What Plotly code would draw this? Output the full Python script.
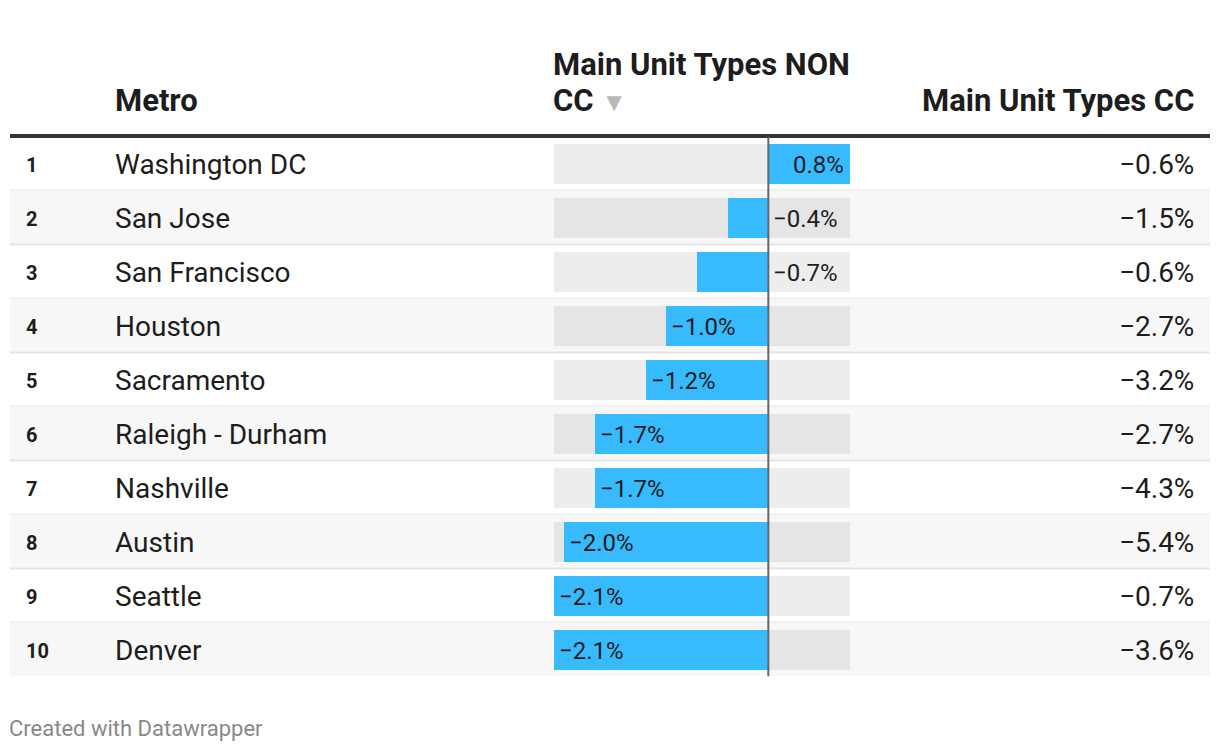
import plotly.graph_objects as go

# ---- data ----
ranks = [1, 2, 3, 4, 5, 6, 7, 8, 9, 10]
metros = ["Washington DC", "San Jose", "San Francisco", "Houston", "Sacramento",
          "Raleigh - Durham", "Nashville", "Austin", "Seattle", "Denver"]
non_cc = [0.8, -0.4, -0.7, -1.0, -1.2, -1.7, -1.7, -2.0, -2.1, -2.1]
cc = [-0.6, -1.5, -0.6, -2.7, -3.2, -2.7, -4.3, -5.4, -0.7, -3.6]
header_metro = "Metro"
header_non_cc = ["Main Unit Types NON", "CC"]
header_cc = "Main Unit Types CC"
footer = "Created with Datawrapper"

# ---- layout constants ----
W, H = 1220, 752
OFF = 8  # page body margin
FONT = "Roboto"
BAR_COLOR = "#38baff"
X_MIN, X_MAX = -2.1, 0.8
TOP_PX, ROW_PX = 136.5, 54
n = len(metros)
BOT_PX = TOP_PX + ROW_PX * n


def px(x):
    return (x - OFF) / W


def py(y):
    return 1 - (y - OFF) / H


def fmt(v):
    s = f"{abs(v):.1f}%"
    return ("\u2212" + s) if v < 0 else s


rows = list(range(n))

fig = go.Figure()

# background track
fig.add_trace(go.Bar(
    y=rows, x=[X_MAX - X_MIN] * n, base=[X_MIN] * n, orientation="h",
    width=40 / ROW_PX, marker=dict(color="rgba(0,0,0,0.07)", line=dict(width=0)),
    hoverinfo="skip", showlegend=False))
# value bars
fig.add_trace(go.Bar(
    y=rows, x=non_cc, orientation="h", width=40 / ROW_PX,
    marker=dict(color=BAR_COLOR, line=dict(width=0)),
    hoverinfo="skip", showlegend=False))

shapes = []
annotations = []

# row backgrounds & separators
for i in rows:
    if i % 2 == 1:
        shapes.append(dict(type="rect", xref="paper", yref="y", x0=px(10), x1=px(1210),
                           y0=i - 0.5, y1=i + 0.5, fillcolor="#f7f7f7",
                           line=dict(width=0), layer="below"))
    if i < n - 1:
        shapes.append(dict(type="line", xref="paper", yref="y", x0=px(10), x1=px(1210),
                           y0=i + 0.5, y1=i + 0.5, line=dict(color="#e6e6e6", width=2),
                           layer="below"))

# header rule
shapes.append(dict(type="line", xref="paper", yref="paper", x0=px(10), x1=px(1210),
                   y0=py(TOP_PX - 0.5), y1=py(TOP_PX - 0.5),
                   line=dict(color="#333333", width=4)))
# zero line
shapes.append(dict(type="line", xref="x", yref="y", x0=0, x1=0, y0=-0.5, y1=n - 0.5,
                   line=dict(color="#666666", width=2), layer="above"))

BODY = 28
TXT = "#1d1d1d"
for i in rows:
    annotations.append(dict(xref="paper", yref="y", x=px(24), y=i, xanchor="left",
                            yanchor="middle", yshift=-1, text=f"<b>{ranks[i]}</b>",
                            showarrow=False, font=dict(family=FONT, size=20, color=TXT)))
    annotations.append(dict(xref="paper", yref="y", x=px(113), y=i, xanchor="left",
                            yanchor="middle", yshift=-1, text=metros[i], showarrow=False,
                            font=dict(family=FONT, size=BODY, color=TXT)))
    annotations.append(dict(xref="paper", yref="y", x=px(1196), y=i, xanchor="right",
                            yanchor="middle", yshift=-1, text=fmt(cc[i]), showarrow=False,
                            font=dict(family=FONT, size=BODY, color=TXT)))
    v = non_cc[i]
    if v >= 0:
        a = dict(x=v, xanchor="right", xshift=-4)
    elif v > -0.9:
        a = dict(x=0, xanchor="left", xshift=3)
    else:
        a = dict(x=v, xanchor="left", xshift=3)
    annotations.append(dict(xref="x", yref="y", y=i, yanchor="middle", yshift=-1,
                            text=fmt(v), showarrow=False,
                            font=dict(family=FONT, size=24, color=TXT), **a))

# headers
HEAD = 31
annotations.append(dict(xref="paper", yref="paper", x=px(113), y=py(100), xanchor="left",
                        yanchor="middle", text=f"<b>{header_metro}</b>", showarrow=False,
                        font=dict(family=FONT, size=HEAD, color=TXT)))
annotations.append(dict(xref="paper", yref="paper", x=px(551), y=py(64), xanchor="left",
                        yanchor="middle", text=f"<b>{header_non_cc[0]}</b>", showarrow=False,
                        font=dict(family=FONT, size=HEAD, color=TXT)))
annotations.append(dict(xref="paper", yref="paper", x=px(551), y=py(100), xanchor="left",
                        yanchor="middle",
                        text=f"<b>{header_non_cc[1]}</b> <span style='color:#b8b8b8;font-size:26px'>\u25BC</span>",
                        showarrow=False,
                        font=dict(family=FONT, size=HEAD, color=TXT)))
annotations.append(dict(xref="paper", yref="paper", x=px(1196), y=py(100), xanchor="right",
                        yanchor="middle", text=f"<b>{header_cc}</b>", showarrow=False,
                        font=dict(family=FONT, size=HEAD, color=TXT)))
# footer
annotations.append(dict(xref="paper", yref="paper", x=px(7), y=py(728), xanchor="left",
                        yanchor="middle", text=footer, showarrow=False,
                        font=dict(family=FONT, size=22, color="#888888")))

fig.update_layout(
    width=W, height=H, margin=dict(l=0, r=0, t=0, b=0),
    paper_bgcolor="white", plot_bgcolor="rgba(0,0,0,0)",
    barmode="overlay", bargap=0,
    xaxis=dict(domain=[px(554), px(850)], range=[X_MIN, X_MAX], visible=False,
               fixedrange=True),
    yaxis=dict(domain=[py(BOT_PX), py(TOP_PX)], range=[n - 0.5, -0.5], visible=False,
               fixedrange=True),
    shapes=shapes, annotations=annotations, showlegend=False,
    font=dict(family=FONT),
)

fig.write_html("out.html", config={"displayModeBar": False})
